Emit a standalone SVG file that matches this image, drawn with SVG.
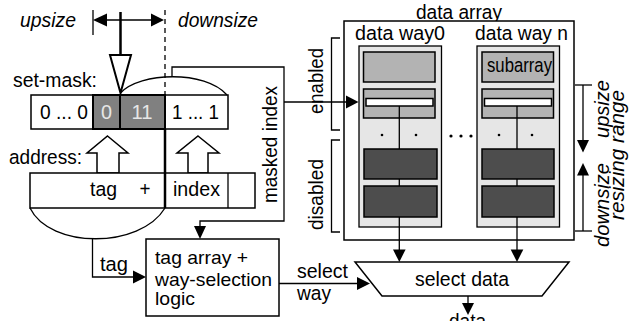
<svg xmlns="http://www.w3.org/2000/svg" width="632" height="321" viewBox="0 0 632 321">
<defs>
<style>
text{font-family:"Liberation Sans",Arial,sans-serif;font-size:20.5px;fill:#000}
.it{font-style:italic}
.tb{font-size:19px}
.ln{fill:none;stroke:#000;stroke-width:1.3}
.thk{fill:none;stroke:#000;stroke-width:2.5}
.box{fill:#fff;stroke:#000;stroke-width:1.5}
.gcell{fill:#808080;stroke:#000;stroke-width:2}
.way{fill:#e6e6e6;stroke:#000;stroke-width:1.3}
.sub{fill:#b3b3b3;stroke:#000;stroke-width:1.5}
.dark{fill:#4d4d4d;stroke:#000;stroke-width:1.5}
.bar{fill:#fff;stroke:#000;stroke-width:1.5}
.ah{fill:#000;stroke:none}
.hol{fill:#fff;stroke:#000;stroke-width:1.5}
.lt{fill:#e6e6e6}
</style>
</defs>
<rect width="632" height="321" fill="#fff"/>

<g id="resize-indicator">
<line class="ln" x1="93" y1="10" x2="93" y2="35"/>
<line class="ln" x1="100" y1="20" x2="158" y2="20"/>
<polygon class="ah" points="93,20 107,13.5 107,26.5"/>
<polygon class="ah" points="164,20 151,13.5 151,26.5"/>
<line class="ln" x1="165" y1="10" x2="165" y2="95" stroke-dasharray="5,4"/>
<line class="thk" x1="120.5" y1="12" x2="120.5" y2="56"/>
<polygon points="110,55 131,55 120.5,93" fill="#fff" stroke="#000" stroke-width="2"/>
<text class="it" x="20" y="27" textLength="56" lengthAdjust="spacingAndGlyphs">upsize</text>
<text class="it" x="178" y="27" textLength="80" lengthAdjust="spacingAndGlyphs">downsize</text>
</g>

<g id="set-mask">
<text x="13" y="86.5" textLength="84" lengthAdjust="spacingAndGlyphs">set-mask:</text>
<rect class="box" x="31" y="95" width="197" height="34"/>
<rect class="gcell" x="93" y="95" width="27" height="34"/>
<rect class="gcell" x="120" y="95" width="45" height="34"/>
<text x="40" y="118.5" textLength="48" lengthAdjust="spacingAndGlyphs">0 ... 0</text>
<text class="lt" x="101" y="118.5" textLength="11" lengthAdjust="spacingAndGlyphs">0</text>
<text class="lt" x="131.5" y="118.5" textLength="21" lengthAdjust="spacingAndGlyphs">11</text>
<text x="172" y="118.5" textLength="47" lengthAdjust="spacingAndGlyphs">1 ... 1</text>
</g>

<g id="address">
<text x="9" y="164" textLength="73" lengthAdjust="spacingAndGlyphs">address:</text>
<polygon class="hol" points="107.5,136 128,153 119,153 119,173 97,173 97,153 87,153"/>
<polygon class="hol" points="198,136 219,153 208,153 208,173 188,173 188,153 177,153"/>
<rect class="box" x="30" y="173" width="225" height="35"/>
<line class="ln" x1="228" y1="173" x2="228" y2="208"/>
<text x="90" y="196" textLength="27" lengthAdjust="spacingAndGlyphs">tag</text>
<text x="139.5" y="196" textLength="11" lengthAdjust="spacingAndGlyphs">+</text>
<text x="173" y="196" textLength="47" lengthAdjust="spacingAndGlyphs">index</text>
</g>

<g id="tag-array">
<rect class="box" x="146" y="239" width="133" height="77"/>
<text class="tb" x="155" y="264" textLength="93" lengthAdjust="spacingAndGlyphs">tag array +</text>
<text class="tb" x="155" y="285.5" textLength="117" lengthAdjust="spacingAndGlyphs">way-selection</text>
<text class="tb" x="155" y="305" textLength="40" lengthAdjust="spacingAndGlyphs">logic</text>
</g>

<g id="data-array">
<text x="416" y="18.5" textLength="86" lengthAdjust="spacingAndGlyphs">data array</text>
<rect class="box" x="344" y="21" width="230" height="219"/>
<text x="355" y="39.5" textLength="90" lengthAdjust="spacingAndGlyphs">data way0</text>
<text x="475" y="39.5" textLength="93" lengthAdjust="spacingAndGlyphs">data way n</text>
<circle cx="451" cy="136" r="1.6"/>
<circle cx="461" cy="136" r="1.6"/>
<circle cx="471" cy="136" r="1.6"/>
</g>

<g id="way0">
<rect class="way" x="359" y="46" width="82.5" height="181"/>
<rect class="sub" x="363.5" y="52" width="71.5" height="30"/>
<rect class="sub" x="363.5" y="89" width="71.5" height="29"/>
<line class="ln" x1="399.3" y1="104" x2="399.3" y2="227"/>
<rect class="bar" x="366" y="98.5" width="67" height="7.5"/>
<circle cx="382" cy="135" r="1.3"/>
<circle cx="416" cy="135" r="1.3"/>
<rect class="dark" x="364" y="149" width="73" height="30"/>
<rect class="dark" x="364" y="186" width="73" height="31"/>
</g>

<g id="wayn">
<rect class="way" x="477" y="46" width="82.5" height="181"/>
<rect class="sub" x="482" y="52" width="71.5" height="30"/>
<text x="487" y="71.5" textLength="65" lengthAdjust="spacingAndGlyphs">subarray</text>
<rect class="sub" x="482" y="89" width="71.5" height="29"/>
<line class="ln" x1="517" y1="104" x2="517" y2="227"/>
<rect class="bar" x="484.5" y="98.5" width="67" height="7.5"/>
<circle cx="499" cy="135" r="1.3"/>
<circle cx="532" cy="135" r="1.3"/>
<rect class="dark" x="482" y="149" width="72" height="30"/>
<rect class="dark" x="482" y="186" width="72" height="31"/>
</g>

<g id="brackets">
<polyline class="ln" points="340,38 331.5,38 331.5,130 340,130"/>
<text transform="translate(323,114) rotate(-90)" textLength="66" lengthAdjust="spacingAndGlyphs">enabled</text>
<polyline class="ln" points="340,140 331.5,140 331.5,232 340,232"/>
<text transform="translate(323,230) rotate(-90)" textLength="71" lengthAdjust="spacingAndGlyphs">disabled</text>
</g>

<g id="resizing-range">
<polyline class="ln" points="575,85 592,85"/>
<line class="ln" x1="583" y1="85" x2="583" y2="142"/>
<polygon class="ah" points="583,152.5 577,140 589,140"/>
<polyline class="ln" points="575,231 592,231"/>
<line class="ln" x1="583" y1="231" x2="583" y2="173"/>
<polygon class="ah" points="583,163 577,175.5 589,175.5"/>
<text class="it" transform="translate(609,138) rotate(-90)" textLength="58" lengthAdjust="spacingAndGlyphs">upsize</text>
<text class="it" transform="translate(609,247) rotate(-90)" textLength="84" lengthAdjust="spacingAndGlyphs">downsize</text>
<text class="it" transform="translate(624,220) rotate(-90)" textLength="130" lengthAdjust="spacingAndGlyphs">resizing range</text>
</g>

<g id="select-data">
<polygon class="box" points="355,262 569,262 542,296 382,296"/>
<text x="415" y="285.5" textLength="94" lengthAdjust="spacingAndGlyphs">select data</text>
<text x="449" y="328" textLength="37" lengthAdjust="spacingAndGlyphs">data</text>
</g>

<g id="connectors">
<path class="ln" d="M120.5,93 C140,72 205,70 227,95"/>
<polyline class="ln" points="172,77 172,67 284,67 284,221 200,221 200,228"/>
<polygon class="ah" points="200,239 194,226 206,226"/>
<line class="ln" x1="284" y1="102" x2="349" y2="102"/>
<polygon class="ah" points="358.5,102 346,95.5 346,108.5"/>
<text transform="translate(277,203) rotate(-90)" textLength="117" lengthAdjust="spacingAndGlyphs">masked index</text>
<line class="thk" x1="165" y1="129" x2="165" y2="208"/>
<path class="ln" d="M30,208 C50,249 140,249 165,208"/>
<polyline class="ln" points="92.5,239 92.5,277 136,277"/>
<polygon class="ah" points="146,277 133,270.5 133,283.5"/>
<text x="100" y="270.5" textLength="28" lengthAdjust="spacingAndGlyphs">tag</text>
<line class="ln" x1="279" y1="283.5" x2="360" y2="283.5"/>
<polygon class="ah" points="370,283.5 357,277 357,290"/>
<text x="297" y="278" textLength="51" lengthAdjust="spacingAndGlyphs">select</text>
<text x="297" y="299.5" textLength="34" lengthAdjust="spacingAndGlyphs">way</text>
<line class="ln" x1="399.3" y1="227" x2="399.3" y2="252"/>
<polygon class="ah" points="399.3,262 393,249.5 405.6,249.5"/>
<line class="ln" x1="517" y1="227" x2="517" y2="252"/>
<polygon class="ah" points="517,262 510.7,249.5 523.3,249.5"/>
<line class="ln" x1="468" y1="296" x2="468" y2="305"/>
<polygon class="ah" points="468,315 462,303 474,303"/>
</g>
</svg>
